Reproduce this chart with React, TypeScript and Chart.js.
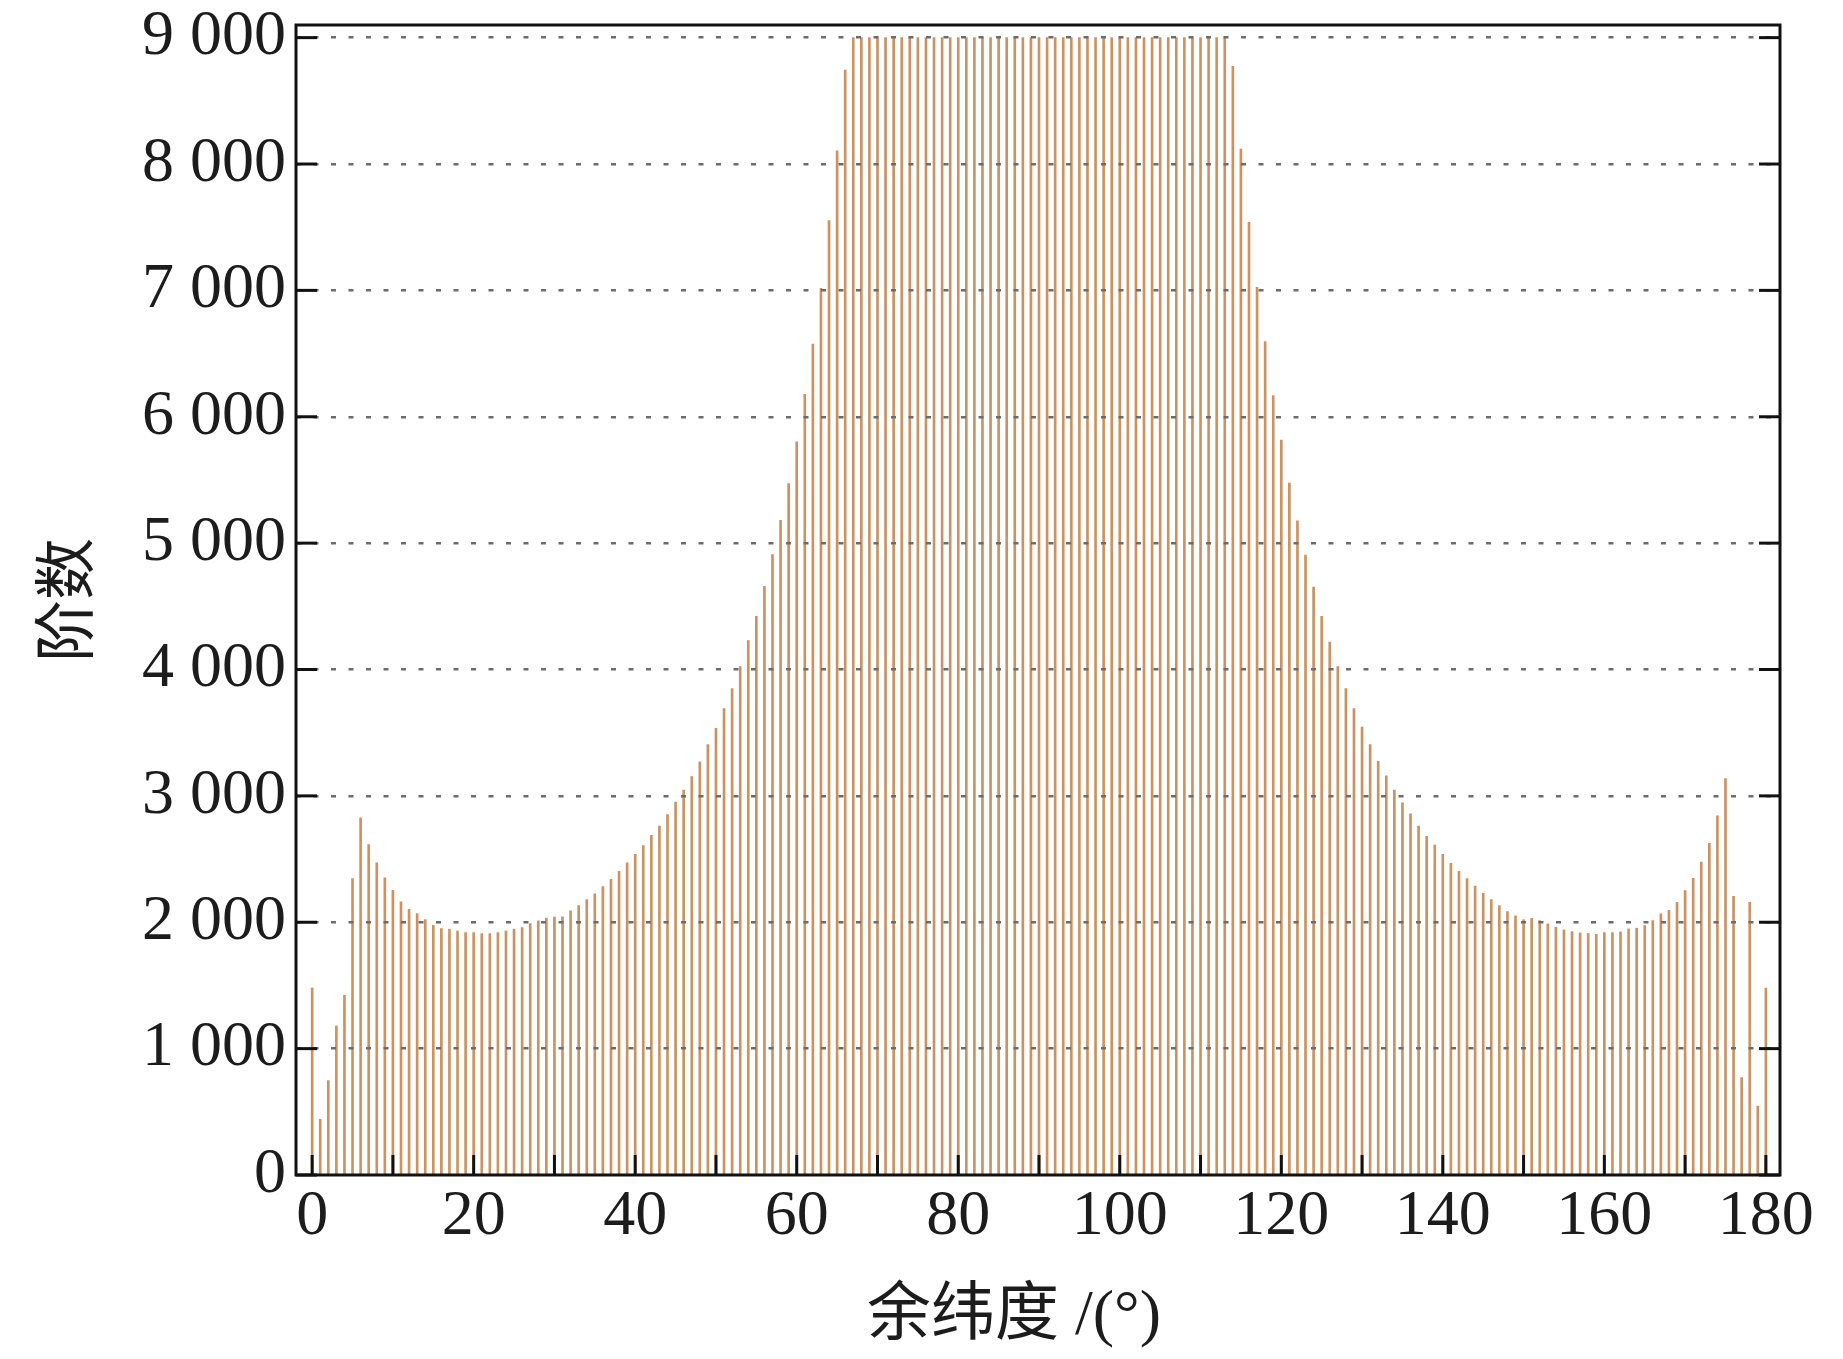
import React, { useEffect, useRef } from "react";
import { Chart, registerables } from "chart.js";

Chart.register(...registerables);

// Colatitude (degrees), one bar per degree
const DEGREES = [
  0, 1, 2, 3, 4, 5, 6, 7, 8, 9, 10, 11, 12, 13, 14, 15, 16, 17, 18, 19,
  20, 21, 22, 23, 24, 25, 26, 27, 28, 29, 30, 31, 32, 33, 34, 35, 36, 37, 38, 39,
  40, 41, 42, 43, 44, 45, 46, 47, 48, 49, 50, 51, 52, 53, 54, 55, 56, 57, 58, 59,
  60, 61, 62, 63, 64, 65, 66, 67, 68, 69, 70, 71, 72, 73, 74, 75, 76, 77, 78, 79,
  80, 81, 82, 83, 84, 85, 86, 87, 88, 89, 90, 91, 92, 93, 94, 95, 96, 97, 98, 99,
  100, 101, 102, 103, 104, 105, 106, 107, 108, 109, 110, 111, 112, 113, 114, 115, 116, 117, 118, 119,
  120, 121, 122, 123, 124, 125, 126, 127, 128, 129, 130, 131, 132, 133, 134, 135, 136, 137, 138, 139,
  140, 141, 142, 143, 144, 145, 146, 147, 148, 149, 150, 151, 152, 153, 154, 155, 156, 157, 158, 159,
  160, 161, 162, 163, 164, 165, 166, 167, 168, 169, 170, 171, 172, 173, 174, 175, 176, 177, 178, 179,
  180,
];

// Order (阶数) per degree
const ORDER_COUNTS = [
  1480, 441, 747, 1179, 1422, 2346, 2826, 2615, 2470, 2351,
  2253, 2161, 2103, 2069, 2021, 1976, 1950, 1945, 1931, 1918,
  1918, 1910, 1910, 1918, 1931, 1945, 1958, 1989, 2011, 2034,
  2040, 2042, 2090, 2132, 2180, 2224, 2282, 2340, 2403, 2471,
  2538, 2606, 2688, 2761, 2853, 2950, 3046, 3153, 3269, 3405,
  3535, 3690, 3850, 4024, 4228, 4421, 4658, 4910, 5181, 5471,
  5801, 6178, 6575, 7016, 7553, 8105, 8743, 9000, 9000, 9000,
  9000, 9000, 9000, 9000, 9000, 9000, 9000, 9000, 9000, 9000,
  9000, 9000, 9000, 9000, 9000, 9000, 9000, 9000, 9000, 9000,
  9000, 9000, 9000, 9000, 9000, 9000, 9000, 9000, 9000, 9000,
  9000, 9000, 9000, 9000, 9000, 9000, 9000, 9000, 9000, 9000,
  9000, 9000, 9000, 9000, 8773, 8119, 7538, 7025, 6594, 6168,
  5815, 5476, 5176, 4905, 4653, 4421, 4218, 4024, 3850, 3690,
  3545, 3405, 3274, 3158, 3046, 2945, 2858, 2761, 2679, 2611,
  2538, 2466, 2403, 2345, 2287, 2229, 2180, 2132, 2084, 2050,
  2020, 2032, 2013, 1987, 1961, 1939, 1926, 1916, 1911, 1905,
  1918, 1918, 1924, 1947, 1953, 1974, 2013, 2066, 2095, 2158,
  2250, 2347, 2476, 2624, 2842, 3137, 2205, 771, 2158, 545,
  1479,
];

const X_TICKS = [0, 20, 40, 60, 80, 100, 120, 140, 160, 180];
const X_MINOR_TICKS = [0, 10, 20, 30, 40, 50, 60, 70, 80, 90, 100, 110, 120, 130, 140, 150, 160, 170, 180];
const Y_TICKS = [0, 1000, 2000, 3000, 4000, 5000, 6000, 7000, 8000, 9000];
const Y_TICK_LABELS = ["0", "1 000", "2 000", "3 000", "4 000", "5 000", "6 000", "7 000", "8 000", "9 000"];
const X_TITLE = "余纬度 /(°)   ";
const Y_TITLE = "阶数";

const W = 1843;
const H = 1359;
const AREA = { left: 296, right: 1780, top: 25, bottom: 1175 };
const BAR_COLOR = "#cc9261";
const TEXT_COLOR = "#1c1c1c";
const SERIF = '"Liberation Serif", "Noto Sans CJK SC", serif';

const framePlugin = {
  id: "frame",
  afterDraw(chart: any) {
    const ctx = chart.ctx;
    const { left, right, top, bottom } = chart.chartArea;
    const xs = chart.scales.x;
    const ys = chart.scales.y;
    ctx.save();
    ctx.strokeStyle = "#111";
    ctx.lineWidth = 3;
    const line = (x1: number, y1: number, x2: number, y2: number) => {
      ctx.beginPath();
      ctx.moveTo(x1, y1);
      ctx.lineTo(x2, y2);
      ctx.stroke();
    };
    Y_TICKS.forEach((v) => {
      const y = ys.getPixelForValue(v);
      line(left, y, left + 21, y);
      line(right, y, right - 21, y);
    });
    X_MINOR_TICKS.forEach((v) => {
      const x = xs.getPixelForValue(v);
      line(x, bottom, x, bottom - 20);
    });
    ctx.strokeRect(left, top, right - left, bottom - top);
    ctx.restore();
  },
};

export default function App() {
  const canvasRef = useRef<HTMLCanvasElement | null>(null);

  useEffect(() => {
    const canvas = canvasRef.current;
    if (!canvas) return;
    const chart = new Chart(canvas, {
      type: "bar",
      data: {
        datasets: [
          {
            data: DEGREES.map((d, i) => ({ x: d, y: ORDER_COUNTS[i] })),
            backgroundColor: BAR_COLOR,
            borderWidth: 0,
            barThickness: 2,
          } as any,
        ],
      },
      options: {
        animation: false,
        responsive: false,
        maintainAspectRatio: false,
        devicePixelRatio: 1,
        layout: { padding: { left: 0, top: AREA.top, right: W - AREA.right, bottom: 0 } },
        plugins: { legend: { display: false }, tooltip: { enabled: false } },
        scales: {
          x: {
            type: "linear",
            min: -2,
            max: 181.75,
            offset: false,
            afterBuildTicks: (s: any) => {
              s.ticks = X_TICKS.map((v) => ({ value: v }));
            },
            afterFit: (s: any) => {
              s.height = H - AREA.bottom;
              s.paddingLeft = 0;
              s.paddingRight = 0;
            },
            grid: { display: false, drawTicks: false },
            border: { display: false },
            ticks: {
              autoSkip: false,
              maxRotation: 0,
              padding: 4,
              color: TEXT_COLOR,
              font: { family: SERIF, size: 64 },
              callback: (v: any) => String(v),
            },
            title: {
              display: true,
              text: X_TITLE,
              color: TEXT_COLOR,
              font: { family: SERIF, size: 64 },
              padding: { top: 0, bottom: 3 },
            },
          },
          y: {
            type: "linear",
            min: 0,
            max: 9100,
            afterBuildTicks: (s: any) => {
              s.ticks = Y_TICKS.map((v) => ({ value: v }));
            },
            afterFit: (s: any) => {
              s.width = AREA.left;
              s.paddingTop = 0;
              s.paddingBottom = 0;
            },
            grid: {
              drawTicks: false,
              lineWidth: 2.5,
              z: 1,
              color: (c: any) => (c.tick && c.tick.value === 0 ? "rgba(0,0,0,0)" : "#6c6c6c"),
            },
            border: { display: false, dash: [5, 12.5] },
            ticks: {
              padding: 10,
              color: TEXT_COLOR,
              font: { family: SERIF, size: 64 },
              callback: (v: any) => Y_TICK_LABELS[Y_TICKS.indexOf(Number(v))] ?? "",
            },
            title: {
              display: true,
              text: Y_TITLE,
              color: TEXT_COLOR,
              font: { family: SERIF, size: 62 },
              padding: { top: 35, bottom: 0 },
            },
          },
        },
      } as any,
      plugins: [framePlugin],
    });
    return () => chart.destroy();
  }, []);

  return (
    <div style={{ position: "absolute", left: 0, top: 0, width: W, height: H, background: "#fff" }}>
      <canvas ref={canvasRef} width={W} height={H} style={{ display: "block", width: W, height: H }} />
    </div>
  );
}
